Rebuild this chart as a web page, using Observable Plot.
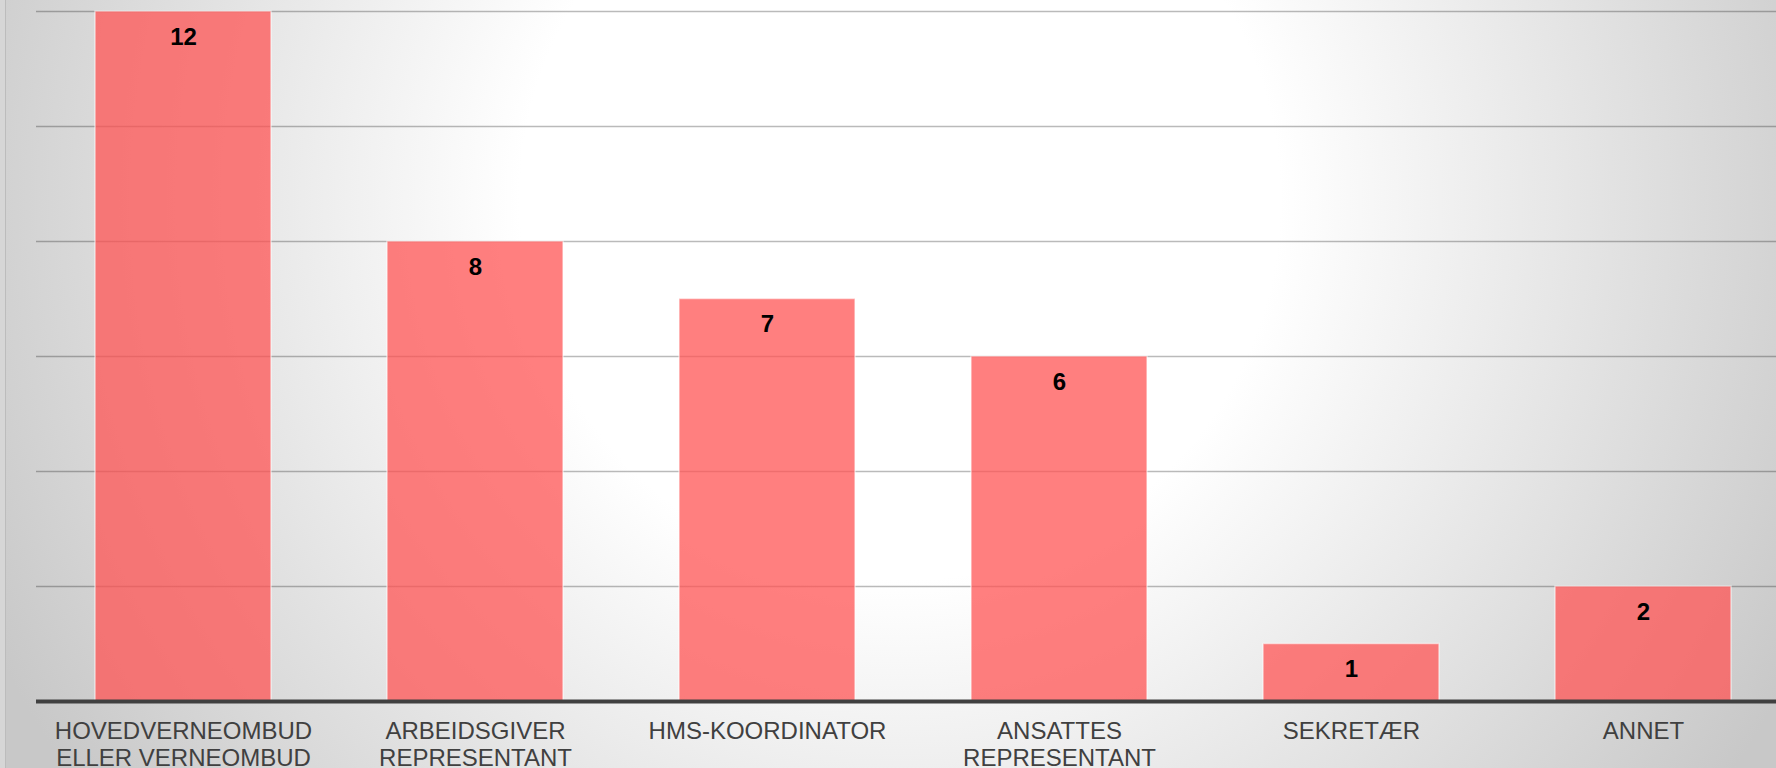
<!DOCTYPE html>
<html>
<head>
<meta charset="utf-8">
<script src="https://cdn.jsdelivr.net/npm/d3@7"></script>
<script src="https://cdn.jsdelivr.net/npm/@observablehq/plot@0.6"></script>
<style>
  html, body { margin: 0; padding: 0; overflow: hidden; }
  #wrap {
    position: relative;
    width: 1776px; height: 768px;
    background: radial-gradient(circle at 900px 200px, #ffffff 0px, #ffffff 380px, #c8c8c8 1010px);
  }
  #edge {
    position: absolute; left: 0; top: 0; width: 5px; height: 768px;
    background: #d6d6d6; border-right: 1px solid #bcbcbc;
  }
  #wrap svg { position: absolute; left: 0; top: 0; }
</style>
</head>
<body>
<div id="wrap"><div id="edge"></div></div>
<script>
const categories = [
  "HOVEDVERNEOMBUD\nELLER VERNEOMBUD",
  "ARBEIDSGIVER\nREPRESENTANT",
  "HMS-KOORDINATOR",
  "ANSATTES\nREPRESENTANT",
  "SEKRETÆR",
  "ANNET"
];
const values = [12, 8, 7, 6, 1, 2];
const yTicks = [2, 4, 6, 8, 10, 12];

const data = categories.map((c, i) => ({category: c, value: values[i]}));

const chart = Plot.plot({
  width: 1776,
  height: 768,
  marginTop: 11,
  marginBottom: 67,
  marginLeft: 36,
  marginRight: 0,
  style: {background: "transparent", fontFamily: "'Liberation Sans', Arial, sans-serif"},
  x: {domain: categories, paddingInner: 0.3968, paddingOuter: 0.1717, align: 0.567, label: null},
  y: {domain: [0, 12], label: null, axis: null},
  marks: [
    Plot.ruleY(yTicks, {stroke: "#000", strokeOpacity: 0.27, strokeWidth: 1.5}),
    Plot.barY(data, {
      x: "category", y: "value",
      fill: "rgb(255,84,84)", fillOpacity: 0.75,
      stroke: "#fff", strokeOpacity: 0.55, strokeWidth: 1.5
    }),
    Plot.ruleY([0], {stroke: "#404040", strokeWidth: 4}),
    Plot.text(data, {
      x: "category", y: "value", text: d => String(d.value),
      lineAnchor: "top", dy: 16,
      fontSize: 24, fontWeight: "bold", fill: "#000"
    }),
    Plot.axisX({
      tickSize: 0, tickPadding: 18, fontSize: 24, lineHeight: 27 / 24,
      fill: "#404040", label: null
    })
  ]
});
chart.style.overflow = "visible";
document.getElementById("wrap").appendChild(chart);
</script>
</body>
</html>
